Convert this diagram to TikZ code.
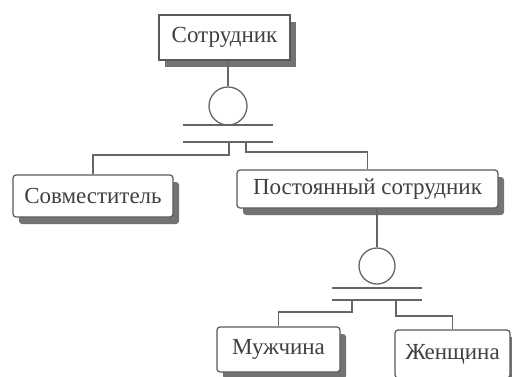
\documentclass[tikz,border=0pt]{standalone}
\usepackage{fontspec}
\setmainfont{Liberation Serif}
\usetikzlibrary{shadows}
\tikzset{
  entity/.style={draw=black!65,line width=1.2pt,fill=white,inner sep=2pt,
    font=\fontsize{23}{25}\selectfont,text=black!75,
    general shadow={fill=black!55,shadow xshift=6pt,shadow yshift=-7pt}},
  subentity/.style={entity,rounded corners=3pt},
  link/.style={draw=black!60,line width=1.3pt},
  catsym/.style={circle,draw=black!60,line width=1.3pt,inner sep=0pt},
}
\begin{document}
\begin{tikzpicture}[x=1pt,y=-1pt]
\useasboundingbox (0,0) rectangle (512,376);
\pgfmathsetmacro{\kbar}{45}
% entities
\node[entity,minimum width=131pt,minimum height=45pt](emp) at (224.5,37.5){Сотрудник};
\node[subentity,minimum width=160pt,minimum height=42pt](part) at (93,196){Совместитель};
\node[subentity,minimum width=261pt,minimum height=38pt](perm) at (367.5,189){Постоянный сотрудник};
\node[subentity,minimum width=123pt,minimum height=45pt](man) at (278.5,349.5){Мужчина};
\node[subentity,minimum width=115pt,minimum height=48pt](woman) at (452.5,354){Женщина};
% category symbols
\node[catsym,minimum size=38pt](cat1) at (228,106){};
\node[catsym,minimum size=36pt](cat2) at (377,266){};
\foreach \c/\ya/\yb in {cat1/125/142,cat2/288/300}{
  \draw[link](\c |- 0,\ya)++(-\kbar,0)--++(2*\kbar,0);
  \draw[link](\c |- 0,\yb)++(-\kbar,0)--++(2*\kbar,0);
}
\coordinate(k1) at (229,142);
\coordinate(k2) at (246,142);
\coordinate(k3) at (352,300);
\coordinate(k4) at (396,300);
% connectors
\draw[link](emp.south -| cat1.north)--(cat1.north);
\draw[link](perm.south -| cat2.north)--(cat2.north);
\draw[link](k1)--++(0,13)-|(part.north);
\draw[link](k2)--++(0,10)-|(perm.north);
\draw[link](k3)--++(0,12)-|(man.north);
\draw[link](k4)--++(0,16)-|(woman.north);
\end{tikzpicture}
\end{document}
